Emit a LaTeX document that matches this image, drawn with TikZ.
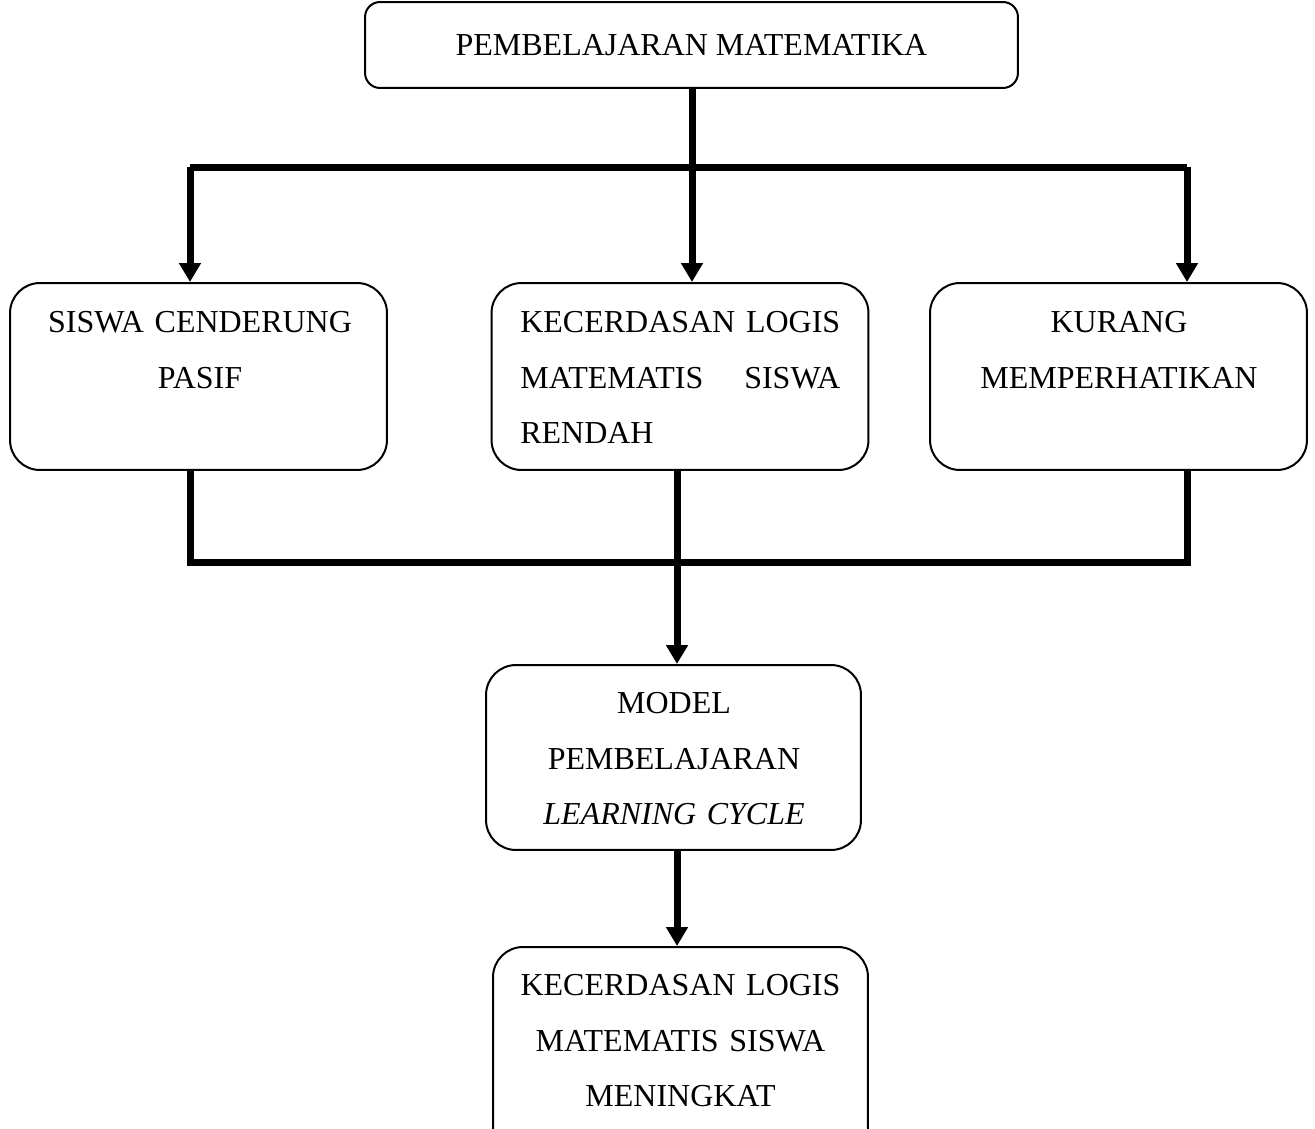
\documentclass[tikz,border=0pt]{standalone}
\usepackage{fontspec}
\setmainfont{Liberation Serif}
\usetikzlibrary{arrows.meta}
\begin{document}
\begin{tikzpicture}[x=0.02cm, y=-0.02cm,
  every node/.style={font={\fontsize{18.2}{31.6}\selectfont}},
  box/.style={draw,line width=0.04cm,rounded corners=0.6cm,minimum width=7.54cm,minimum height=3.74cm,inner sep=0pt},
  txt/.style={inner sep=0pt,anchor=north,text width=7cm,align=center},
  line/.style={line width=0.14cm,line join=miter},
  arrow/.style={line width=0.14cm,-{Triangle[width=0.42cm,length=0.38cm]}}]
\useasboundingbox (0,0) rectangle (1315,1129);
% boxes
\node[box,rounded corners=0.3cm,minimum width=13.06cm,minimum height=1.72cm] (pm) at (691.5,45) {\raisebox{-1.5pt}{PEMBELAJARAN MATEMATIKA}};
\node[box] (pasif) at (198.5,376.5) {};
\node[box] (logis) at (680,376.5) {};
\node[box] (kurang) at (1118.5,376.5) {};
\node[box,minimum width=7.5cm,minimum height=3.7cm] (model) at (673.5,757.5) {};
\node[box,minimum width=7.5cm,minimum height=4.2cm] (naik) at (680.5,1052) {};
% texts
\node[txt] (pasif-t) at (200,311) {SISWA CENDERUNG\\PASIF};
\node[txt,anchor=north west,text width=6.4cm,align=left] (logis-t) at (520,311) {\mbox{KECERDASAN}\hfill\mbox{LOGIS}\\\mbox{MATEMATIS}\hfill\mbox{SISWA}\\RENDAH};
\node[txt] (kurang-t) at (1119,311) {KURANG\\MEMPERHATIKAN};
\node[txt] (model-t) at (674,692) {MODEL\\PEMBELAJARAN\\\textit{LEARNING CYCLE}};
\node[txt] (naik-t) at (680.5,974) {KECERDASAN LOGIS\\MATEMATIS SISWA\\MENINGKAT};
% connectors
\coordinate (jl) at (190,167);
\coordinate (jr) at (1187,167);
\coordinate (jm) at (692,167);
\coordinate (bl) at (190,562);
\coordinate (br) at (1187,562);
\coordinate (bm) at (677,562);
\draw[line] (jl) -- (jr);
\draw[arrow] (pm.south -| jm) -- (logis.north -| jm);
\draw[arrow] (jl) -- (pasif.north -| jl);
\draw[arrow] (jr) -- (kurang.north -| jr);
\draw[line] (pasif.south -| bl) -- (bl) -- (br) -- (kurang.south -| br);
\draw[arrow] (logis.south -| bm) -- (model.north -| bm);
\draw[arrow] (model.south -| bm) -- (naik.north -| bm);
\end{tikzpicture}
\end{document}
